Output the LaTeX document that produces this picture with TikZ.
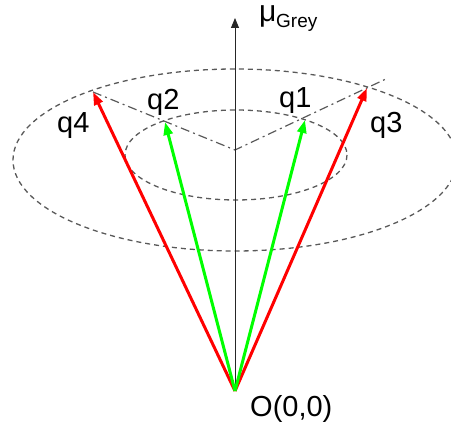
\documentclass[tikz,border=0pt]{standalone}
\usepackage{fontspec}
\setmainfont{Liberation Sans}
\usetikzlibrary{arrows.meta}
\begin{document}
\begin{tikzpicture}[x=1pt,y=-1pt,
  vec/.style={line width=3pt,-{Triangle[length=13pt,width=9pt]}},
  ring/.style={draw=black!65,line width=1.3pt,dash pattern=on 5pt off 4pt},
  guide/.style={draw=black!65,line width=1.2pt,dash pattern=on 9pt off 4pt on 2pt off 4pt},
  axisline/.style={draw=black!85,line width=1pt,-{Triangle[length=10pt,width=8pt]}},
  lbl/.style={font=\fontsize{29}{29}\selectfont,inner sep=0pt,anchor=base west}]
\useasboundingbox (0,0) rectangle (451,425);
\definecolor{vred}{RGB}{255,0,0}
\definecolor{vgreen}{RGB}{0,255,0}
\coordinate (O) at (235,391);
\coordinate (C) at (235,150);
\coordinate (top) at (235,18);
\coordinate (t4) at (93,92);
\coordinate (t3) at (367,88);
\coordinate (t2) at (165,122);
\coordinate (t1) at (305,120);
\coordinate (gend) at (388,78);
% rings
\draw[ring] (235,160) ellipse [x radius=222, y radius=91];
\draw[ring] (236,155) ellipse [x radius=111, y radius=45];
% guide lines
\draw[guide] (t4) -- (C) -- (gend);
% axis
\draw[axisline] (O) -- (top);
% vectors
\draw[vec,vred] (O) -- (t4);
\draw[vec,vred] (O) -- (t3);
\draw[vec,vgreen] (O) -- (t2);
\draw[vec,vgreen] (O) -- (t1);
% labels
\node[lbl] (l4) at (57,133) {q4};
\node[lbl] (l2) at (147,110) {q2};
\node[lbl] (l1) at (279,108) {q1};
\node[lbl] (l3) at (370,133) {q3};
\node[lbl] (lO) at (250,417) {O(0,0)};
\node[lbl,font=\fontsize{30}{30}\selectfont] (mu) at (259,22) {μ};
\node[lbl,font=\fontsize{19}{19}\selectfont] (grey) at (276,28) {Grey};
\end{tikzpicture}
\end{document}
